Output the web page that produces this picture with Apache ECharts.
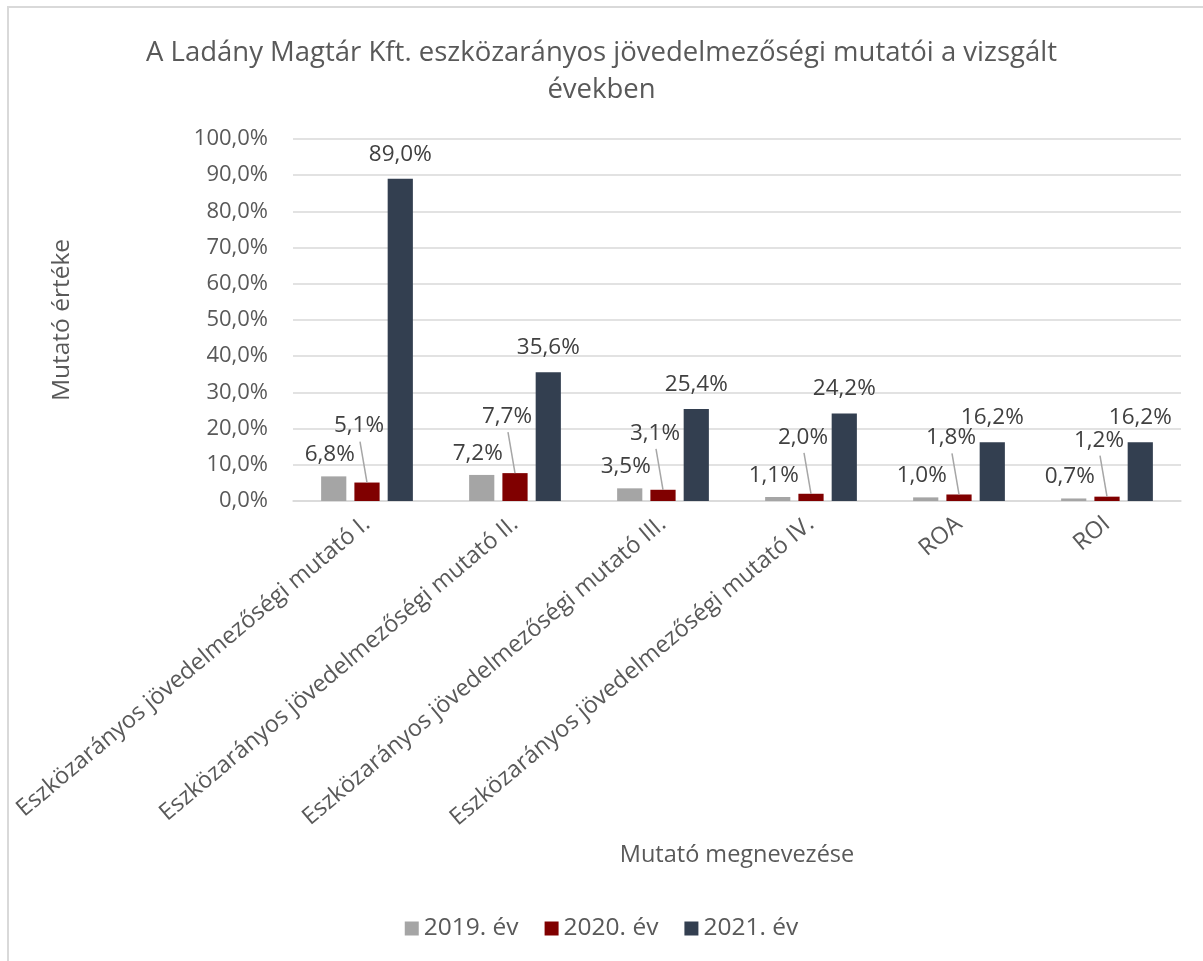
<!DOCTYPE html>
<html>
<head>
<meta charset="utf-8">
<script src="https://cdn.jsdelivr.net/npm/echarts@6/dist/echarts.min.js"></script>
<style>
html,body{margin:0;padding:0;background:#fff;}
#frame{position:absolute;left:7px;top:6px;width:1220px;height:980px;border:2px solid #D9D9D9;box-sizing:border-box;}
#chart{position:absolute;left:0;top:0;width:1203px;height:961px;}
</style>
</head>
<body>
<div id="frame"></div>
<div id="chart"></div>
<script>
const categories = [
  'Eszközarányos jövedelmezőségi mutató I.',
  'Eszközarányos jövedelmezőségi mutató II.',
  'Eszközarányos jövedelmezőségi mutató III.',
  'Eszközarányos jövedelmezőségi mutató IV.',
  'ROA',
  'ROI'
];
const seriesNames = ['2019. év', '2020. év', '2021. év'];
const values2019 = [6.8, 7.2, 3.5, 1.1, 1.0, 0.7];
const values2020 = [5.1, 7.7, 3.1, 2.0, 1.8, 1.2];
const values2021 = [89.0, 35.6, 25.4, 24.2, 16.2, 16.2];
const titleText = 'A Ladány Magtár Kft. eszközarányos jövedelmezőségi mutatói a vizsgált\névekben';
const yAxisName = 'Mutató értéke';
const xAxisName = 'Mutató megnevezése';

const FONT = 'Open Sans';
const fmt = v => v.toFixed(1).replace('.', ',') + '%';

const chart = echarts.init(document.getElementById('chart'), null, {renderer: 'canvas'});
const baseLabel = {
  show: true,
  position: 'top',
  fontFamily: FONT,
  fontSize: 22.5,
  color: '#404040',
  formatter: p => fmt(p.value)
};
chart.setOption({
  animation: false,
  backgroundColor: 'transparent',
  textStyle: {fontFamily: FONT, fontSize: 22},
  title: {
    text: titleText,
    left: 'center',
    top: 30,
    textStyle: {fontFamily: FONT, fontSize: 27.5, fontWeight: 'normal', color: '#595959', lineHeight: 37, align: 'center'}
  },
  legend: {
    data: seriesNames,
    bottom: 15,
    left: 'center',
    icon: 'rect',
    itemWidth: 14,
    itemHeight: 14,
    itemGap: 26,
    textStyle: {fontFamily: FONT, fontSize: 24.5, color: '#595959'}
  },
  grid: {left: 293, right: 22, top: 139, bottom: 460, containLabel: false},
  xAxis: {
    type: 'category',
    data: categories,
    name: xAxisName,
    nameLocation: 'middle',
    nameGap: 342,
    nameMoveOverlap: false,
    nameTextStyle: {fontFamily: FONT, fontSize: 23.5, color: '#595959'},
    axisLine: {lineStyle: {color: '#D9D9D9', width: 1.5}},
    axisTick: {show: false},
    axisLabel: {rotate: 40, fontFamily: FONT, fontSize: 23.5, color: '#595959', margin: 20, interval: 0}
  },
  yAxis: {
    type: 'value',
    min: 0,
    max: 100,
    interval: 10,
    name: yAxisName,
    nameLocation: 'middle',
    nameGap: 218,
    nameRotate: 90,
    nameTextStyle: {fontFamily: FONT, fontSize: 24.5, color: '#595959'},
    axisLine: {show: false},
    axisTick: {show: false},
    splitLine: {lineStyle: {color: '#D9D9D9', width: 1.5}},
    axisLabel: {fontFamily: FONT, fontSize: 22, color: '#595959', margin: 25, formatter: v => fmt(v)}
  },
  series: [
    {
      name: seriesNames[0], type: 'bar', data: values2019,
      barGap: '32%', barCategoryGap: '38%',
      itemStyle: {color: '#A5A5A5'},
      label: Object.assign({}, baseLabel, {distance: 10}),
      labelLayout: {dx: -4}
    },
    {
      name: seriesNames[1], type: 'bar', data: values2020,
      barGap: '32%', barCategoryGap: '38%',
      itemStyle: {color: '#800000'},
      label: Object.assign({}, baseLabel, {distance: 5}),
      labelLayout: {dx: -8, dy: -40}
    },
    {
      name: seriesNames[2], type: 'bar', data: values2021,
      barGap: '32%', barCategoryGap: '38%',
      itemStyle: {color: '#333F50'},
      label: Object.assign({}, baseLabel, {distance: 13})
    },
    {
      // leader lines of the 2020 labels (the 2020 bar is the middle bar of each group)
      type: 'custom',
      silent: true,
      z: 3,
      encode: {x: 0, y: 1},
      data: values2020.map((v, i) => [i, v]),
      renderItem: function (params, api) {
        const p = api.coord([api.value(0), api.value(1)]);
        return {
          type: 'line',
          shape: {x1: p[0], y1: p[1], x2: p[0] - 7, y2: p[1] - 41},
          style: {stroke: '#A6A6A6', lineWidth: 1.5}
        };
      }
    }
  ]
});
</script>
</body>
</html>
